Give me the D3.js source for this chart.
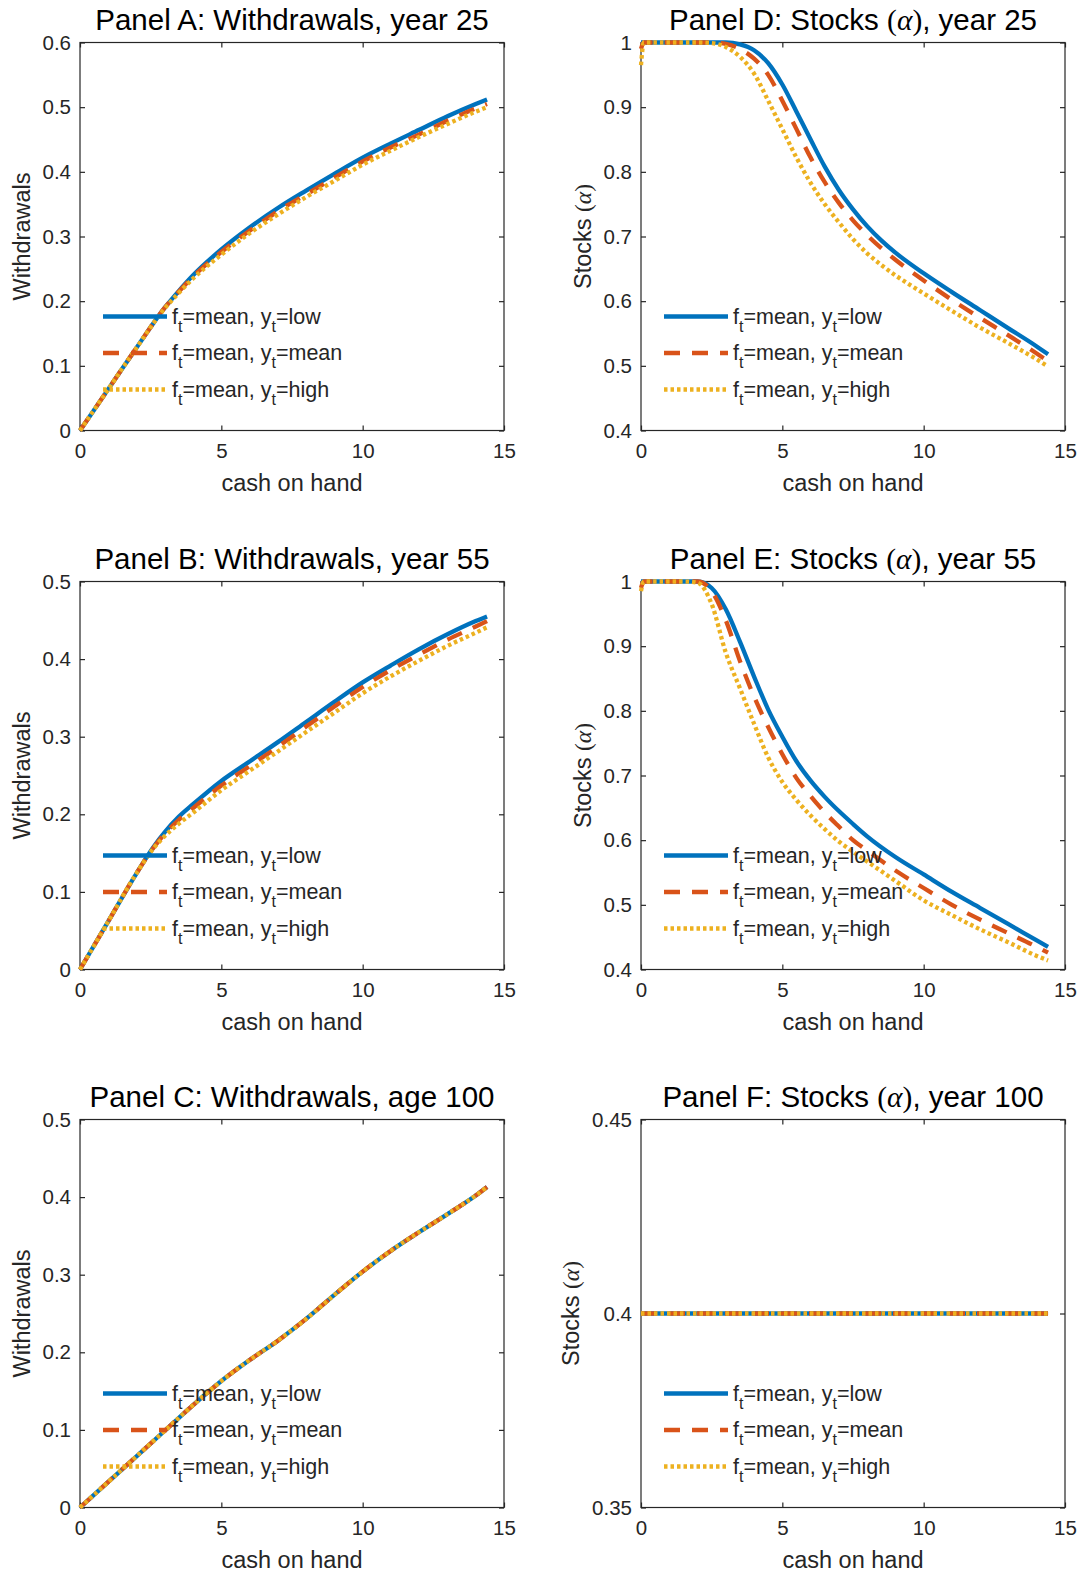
<!DOCTYPE html>
<html>
<head>
<meta charset="utf-8">
<script src="https://cdn.jsdelivr.net/npm/d3@7"></script>
<style>
body { margin: 0; background: #fff; }
text { font-family: "Liberation Sans", Arial, Helvetica, sans-serif; fill: #262626; }
</style>
</head>
<body>
<svg id="fig" width="1083" height="1575"></svg>
<script>
// cash on hand grids and policy values
var xA = [0, 1, 2, 3, 3.5, 4, 5, 6, 7, 8, 9, 10, 11, 12, 13, 14, 14.4];
var aLow  = [0, 0.064, 0.128, 0.19, 0.216, 0.24, 0.28, 0.314, 0.344, 0.371, 0.397, 0.422, 0.444, 0.465, 0.486, 0.505, 0.512];
var aMean = [0, 0.064, 0.128, 0.19, 0.215, 0.238, 0.276, 0.309, 0.339, 0.365, 0.391, 0.416, 0.438, 0.458, 0.479, 0.498, 0.505];
var aHigh = [0, 0.064, 0.128, 0.189, 0.213, 0.235, 0.272, 0.305, 0.334, 0.361, 0.386, 0.411, 0.433, 0.454, 0.474, 0.493, 0.5];

var xB = [0, 1, 2, 2.6, 3, 3.5, 4, 5, 6, 7, 8, 9, 10, 11, 12, 13, 14, 14.4];
var bLow  = [0, 0.062, 0.124, 0.158, 0.177, 0.197, 0.213, 0.243, 0.268, 0.293, 0.319, 0.345, 0.37, 0.392, 0.413, 0.432, 0.449, 0.455];
var bMean = [0, 0.062, 0.124, 0.157, 0.175, 0.193, 0.208, 0.237, 0.262, 0.287, 0.313, 0.339, 0.364, 0.386, 0.406, 0.425, 0.442, 0.449];
var bHigh = [0, 0.062, 0.124, 0.156, 0.172, 0.188, 0.202, 0.231, 0.256, 0.281, 0.306, 0.331, 0.356, 0.378, 0.398, 0.417, 0.434, 0.441];

var xC = [0, 1, 2, 3, 4, 5, 6, 7, 8, 9, 10, 11, 12, 13, 14, 14.4];
var cLow  = [0, 0.033, 0.066, 0.099, 0.132, 0.163, 0.19, 0.215, 0.243, 0.274, 0.304, 0.331, 0.355, 0.378, 0.402, 0.413];
var cMean = [0, 0.033, 0.066, 0.099, 0.132, 0.163, 0.19, 0.215, 0.243, 0.274, 0.304, 0.331, 0.355, 0.378, 0.402, 0.413];
var cHigh = [0, 0.033, 0.066, 0.099, 0.132, 0.163, 0.19, 0.215, 0.243, 0.274, 0.304, 0.331, 0.355, 0.378, 0.402, 0.413];

var xD = [0, 0.1, 1, 2, 2.5, 3, 3.5, 4, 4.5, 5, 5.5, 6, 6.5, 7, 7.5, 8, 8.5, 9, 10, 11, 12, 13, 14, 14.4];
var dLow  = [1, 1, 1, 1, 1, 1, 0.997, 0.988, 0.968, 0.935, 0.893, 0.85, 0.808, 0.772, 0.742, 0.716, 0.694, 0.675, 0.643, 0.614, 0.586, 0.558, 0.53, 0.518];
var dMean = [0.99, 1, 1, 1, 1, 0.998, 0.99, 0.975, 0.95, 0.91, 0.866, 0.822, 0.784, 0.752, 0.725, 0.702, 0.682, 0.664, 0.632, 0.602, 0.574, 0.547, 0.519, 0.507];
var dHigh = [0.965, 1, 1, 1, 0.999, 0.993, 0.978, 0.952, 0.91, 0.866, 0.822, 0.783, 0.75, 0.722, 0.696, 0.674, 0.656, 0.64, 0.612, 0.585, 0.559, 0.535, 0.51, 0.499];

var xE = [0, 0.1, 1, 1.5, 2, 2.5, 3, 3.5, 4, 4.5, 5, 5.5, 6, 6.5, 7, 7.5, 8, 9, 10, 11, 12, 13, 14, 14.4];
var eLow  = [1, 1, 1, 1, 1, 0.99, 0.957, 0.907, 0.853, 0.802, 0.76, 0.722, 0.692, 0.667, 0.645, 0.625, 0.606, 0.574, 0.547, 0.52, 0.495, 0.47, 0.445, 0.435];
var eMean = [0.99, 1, 1, 1, 1, 0.985, 0.94, 0.877, 0.822, 0.775, 0.733, 0.696, 0.668, 0.643, 0.621, 0.6, 0.584, 0.553, 0.526, 0.5, 0.477, 0.456, 0.435, 0.426];
var eHigh = [0.985, 1, 1, 1, 0.998, 0.965, 0.89, 0.835, 0.78, 0.728, 0.69, 0.662, 0.638, 0.617, 0.598, 0.582, 0.567, 0.537, 0.507, 0.484, 0.462, 0.442, 0.421, 0.414];

var xF = [0, 5, 10, 14.4];
var fLow  = [0.4, 0.4, 0.4, 0.4];
var fMean = [0.4, 0.4, 0.4, 0.4];
var fHigh = [0.4, 0.4, 0.4, 0.4];

var xTicks = [0, 5, 10, 15];
var ticksW6 = [0, 0.1, 0.2, 0.3, 0.4, 0.5, 0.6];
var ticksW5 = [0, 0.1, 0.2, 0.3, 0.4, 0.5];
var ticksS = [0.4, 0.5, 0.6, 0.7, 0.8, 0.9, 1];
var ticksF = [0.35, 0.4, 0.45];

var legendY = ["low", "mean", "high"];
var colors = ["#0072BD", "#D95319", "#EDB120"];
var dashes = [null, "16,12", "3.5,3"];

var panels = [
  {title: "Panel A: Withdrawals, year 25", alpha: false, x: xA, ys: [aLow, aMean, aHigh], dom: [0, 0.6], ticks: ticksW6, left: 80, top: 42.5},
  {title: "Panel B: Withdrawals, year 55", alpha: false, x: xB, ys: [bLow, bMean, bHigh], dom: [0, 0.5], ticks: ticksW5, left: 80, top: 581.5},
  {title: "Panel C: Withdrawals, age 100", alpha: false, x: xC, ys: [cLow, cMean, cHigh], dom: [0, 0.5], ticks: ticksW5, left: 80, top: 1119.5},
  {title: ", year 25", alpha: true, x: xD, ys: [dLow, dMean, dHigh], dom: [0.4, 1], ticks: ticksS, left: 641, top: 42.5, name: "Panel D: Stocks "},
  {title: ", year 55", alpha: true, x: xE, ys: [eLow, eMean, eHigh], dom: [0.4, 1], ticks: ticksS, left: 641, top: 581.5, name: "Panel E: Stocks "},
  {title: ", year 100", alpha: true, x: xF, ys: [fLow, fMean, fHigh], dom: [0.35, 0.45], ticks: ticksF, left: 641, top: 1119.5, name: "Panel F: Stocks "}
];

var W = 424, H = 388;
var svg = d3.select("#fig");
var fmt = function(d) { return String(+d.toFixed(2)); };

// "Stocks (α)" with a latex style alpha
function alphaText(t, before, after) {
  var serif = "'Liberation Serif', 'DejaVu Serif', serif";
  t.append("tspan").text(before);
  t.append("tspan").style("font-family", serif).text("(");
  t.append("tspan").style("font-family", serif).style("font-style", "italic").text("\u03b1");
  t.append("tspan").style("font-family", serif).text(")");
  t.append("tspan").text(after);
}

panels.forEach(function(p) {
  var g = svg.append("g").attr("transform", "translate(" + p.left + "," + p.top + ")");
  var x = d3.scaleLinear().domain([0, 15]).range([0, W]);
  var y = d3.scaleLinear().domain(p.dom).range([H, 0]);

  g.append("rect").attr("width", W).attr("height", H)
    .attr("fill", "none").attr("stroke", "#262626").attr("stroke-width", 1.2);

  var bottom = g.append("g").attr("transform", "translate(0," + H + ")")
    .call(d3.axisBottom(x).tickValues(xTicks).tickSizeInner(-5).tickSizeOuter(0).tickPadding(13).tickFormat(fmt));
  var left = g.append("g")
    .call(d3.axisLeft(y).tickValues(p.ticks).tickSizeInner(-5).tickSizeOuter(0).tickPadding(9).tickFormat(fmt));
  var top = g.append("g")
    .call(d3.axisTop(x).tickValues(xTicks).tickSizeInner(-5).tickSizeOuter(0).tickFormat(""));
  var right = g.append("g").attr("transform", "translate(" + W + ",0)")
    .call(d3.axisRight(y).tickValues(p.ticks).tickSizeInner(-5).tickSizeOuter(0).tickFormat(""));
  [bottom, left, top, right].forEach(function(a) {
    a.attr("color", "#262626").attr("font-size", 20.5);
    a.select(".domain").remove();
    a.selectAll("line").attr("stroke-width", 1.2);
  });

  var maxW = 0;
  left.selectAll("text").each(function() { maxW = Math.max(maxW, this.getComputedTextLength()); });

  var line = d3.line()
    .x(function(d, i) { return x(p.x[i]); })
    .y(function(d) { return y(d); })
    .curve(d3.curveMonotoneX);

  p.ys.forEach(function(vals, i) {
    g.append("path").datum(vals)
      .attr("d", line)
      .attr("fill", "none")
      .attr("stroke", colors[i])
      .attr("stroke-width", 4.3)
      .attr("stroke-dasharray", dashes[i]);
  });

  // legend, no box
  legendY.forEach(function(name, i) {
    var ly = 274 + 36.5 * i;
    g.append("line").attr("x1", 23).attr("x2", 87).attr("y1", ly).attr("y2", ly)
      .attr("stroke", colors[i]).attr("stroke-width", 4.3).attr("stroke-dasharray", dashes[i]);
    var t = g.append("text").attr("x", 92).attr("y", ly + 7).attr("font-size", 21.5);
    t.append("tspan").text("f");
    t.append("tspan").attr("font-size", 16).attr("dy", 8).text("t");
    t.append("tspan").attr("dy", -8).text("=mean, y");
    t.append("tspan").attr("font-size", 16).attr("dy", 8).text("t");
    t.append("tspan").attr("dy", -8).text("=" + name);
  });

  var title = g.append("text").attr("x", W / 2).attr("y", -13)
    .attr("text-anchor", "middle").attr("font-size", 29.5).style("fill", "#000");
  if (p.alpha) alphaText(title, p.name, p.title);
  else title.text(p.title);

  g.append("text").attr("x", W / 2).attr("y", H + 60)
    .attr("text-anchor", "middle").attr("font-size", 23.5).text("cash on hand");

  var yl = g.append("text")
    .attr("transform", "translate(" + (-(maxW + 22)) + "," + (H / 2) + ") rotate(-90)")
    .attr("text-anchor", "middle").attr("font-size", 23.5);
  if (p.alpha) alphaText(yl, "Stocks ", "");
  else yl.text("Withdrawals");
});
</script>
</body>
</html>
